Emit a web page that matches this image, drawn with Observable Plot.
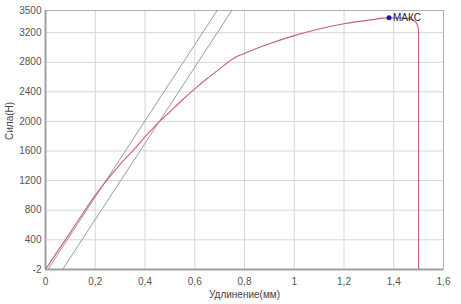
<!DOCTYPE html>
<html>
<head>
<meta charset="utf-8">
<script src="https://cdn.jsdelivr.net/npm/d3@7"></script>
<script src="https://cdn.jsdelivr.net/npm/@observablehq/plot@0.6"></script>
<style>
  html, body { margin: 0; padding: 0; background: #fff; }
</style>
</head>
<body>
<div id="chart"></div>
<script>
// Tick values
const xTicks = [0, 0.2, 0.4, 0.6, 0.8, 1, 1.2, 1.4, 1.6];
const yTicks = [-2, 400, 800, 1200, 1600, 2000, 2400, 2800, 3200, 3500];

// Main force-elongation curve (mm, N)
const curveX = [0, 0.1, 0.2, 0.25, 0.3, 0.35, 0.4, 0.45, 0.5, 0.55, 0.6, 0.65, 0.7, 0.76, 0.8, 0.9, 1.0, 1.1, 1.2, 1.3, 1.38, 1.43, 1.46, 1.48, 1.493, 1.5, 1.5];
const curveY = [0, 500, 1000, 1220, 1420, 1600, 1790, 1970, 2130, 2290, 2440, 2580, 2710, 2860, 2920, 3050, 3160, 3250, 3320, 3370, 3400, 3398, 3388, 3365, 3320, 3240, -2];

// Two parallel straight reference lines
const line1X = [0.01, 0.69];
const line1Y = [0, 3500];
const line2X = [0.069, 0.749];
const line2Y = [0, 3500];

// Maximum point
const maxX = [1.381];
const maxY = [3401];
const maxLabel = ["МАКС"];

const curve = curveX.map((x, i) => ({x, y: curveY[i]}));
const l1 = line1X.map((x, i) => ({x, y: line1Y[i]}));
const l2 = line2X.map((x, i) => ({x, y: line2Y[i]}));
const maxPt = maxX.map((x, i) => ({x, y: maxY[i], label: maxLabel[i]}));

const fmt = d => String(d).replace(".", ",");

const chart = Plot.plot({
  width: 461,
  height: 304,
  marginLeft: 45,
  marginRight: 18,
  marginTop: 10,
  marginBottom: 35,
  style: {fontFamily: "Liberation Sans, Arial, sans-serif", fontSize: "10px", color: "#444", background: "#fff"},
  x: {domain: [0, 1.6]},
  y: {domain: [-2, 3500]},
  marks: [
    Plot.ruleX(xTicks, {stroke: "#d6d6d6", strokeWidth: 1}),
    Plot.ruleY(yTicks, {stroke: "#d6d6d6", strokeWidth: 1}),
    Plot.frame({stroke: "#b0b0b0", strokeWidth: 1}),
    Plot.ruleY([-2], {stroke: "#a0a0a0", strokeWidth: 2}),
    Plot.ruleX([0], {stroke: "#a0a0a0", strokeWidth: 2}),
    Plot.axisX({ticks: xTicks, tickFormat: fmt, tickSize: 0, tickPadding: 8, label: null, fill: "#555"}),
    Plot.axisY({ticks: yTicks, tickFormat: d => String(d), tickSize: 0, tickPadding: 4, label: null, fill: "#555"}),
    Plot.line(l1, {x: "x", y: "y", stroke: "#9a9aa4", strokeWidth: 1, clip: true}),
    Plot.line(l2, {x: "x", y: "y", stroke: "#9a9aa4", strokeWidth: 1, clip: true}),
    Plot.line(curve, {x: "x", y: "y", stroke: "#c8606e", strokeWidth: 1.1, curve: "monotone-x", clip: true}),
    Plot.dot(maxPt, {x: "x", y: "y", r: 2.5, fill: "#1a1aa8", stroke: "none"}),
    Plot.text(maxPt, {x: "x", y: "y", text: "label", dx: 4, textAnchor: "start", fill: "#222244", fontSize: 10}),
    Plot.text(["Удлинение(мм)"], {frameAnchor: "bottom", dy: 28, fill: "#444", fontSize: 10}),
    Plot.text(["Сила(Н)"], {frameAnchor: "left", dx: -36, rotate: -90, fill: "#444", fontSize: 10})
  ]
});
document.getElementById("chart").appendChild(chart);
</script>
</body>
</html>
